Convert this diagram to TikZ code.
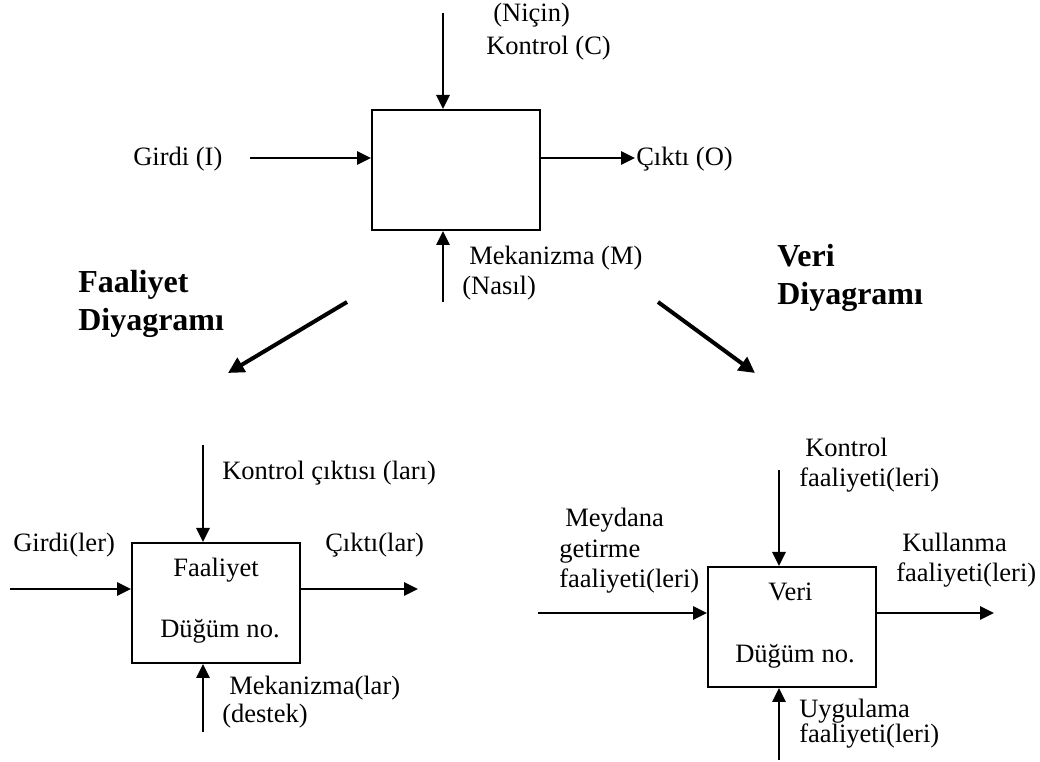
\documentclass[tikz,border=0pt]{standalone}
\usepackage{fontspec}
\setmainfont{Liberation Serif}
\usetikzlibrary{arrows.meta}

\begin{document}
\begin{tikzpicture}[x=0.75pt,y=-0.75pt,
  lbl/.style={anchor=base west, inner sep=0pt, font=\fontsize{19.9}{22}\selectfont},
  head/.style={anchor=base west, inner sep=0pt, font=\fontsize{24}{28}\selectfont\bfseries},
  box/.style={draw, line width=1.5pt, rectangle, anchor=north west,
              minimum width=126pt, minimum height=90pt, inner sep=0pt},
  flow/.style={line width=1.5pt, -{Triangle[length=10.5pt,width=10pt]}},
  branch/.style={line width=3pt, -{Triangle[length=12pt,width=12pt]}}]

\useasboundingbox (0,0) rectangle (1040,762);

% ---------- generic ICOM box ----------
\node[box] (top) at (371,109) {};
\coordinate (topC) at (443,13);
\coordinate (topI) at (250,158);
\coordinate (topO) at (635,158);
\coordinate (topM) at (443,302);
\draw[flow] (topC) -- (topC |- top.north);
\draw[flow] (topI) -- (topI -| top.west);
\draw[flow] (topI -| top.east) -- (topO);
\draw[flow] (topM) -- (topM |- top.south);

\node[lbl] (nicin)  at (493,22)  {(Niçin)};
\node[lbl] (kontC)  at (486,55)  {Kontrol (C)};
\node[lbl] (girdiI) at (133,166) {Girdi (I)};
\node[lbl] (ciktiO) at (636,166) {Çıktı (O)};
\node[lbl] (mekM)   at (469,265) {Mekanizma (M)};
\node[lbl] (nasil)  at (462,295) {(Nasıl)};

% ---------- branch headings and arrows ----------
\node[head] (fd1) at (78,293)  {Faaliyet};
\node[head] (fd2) at (78,331)  {Diyagramı};
\node[head] (vd1) at (777,267) {Veri};
\node[head] (vd2) at (777,305) {Diyagramı};

\coordinate (bl0) at (347,302);
\coordinate (bl1) at (228,373);
\coordinate (br0) at (658,302);
\coordinate (br1) at (755,373);
\draw[branch] (bl0) -- (bl1);
\draw[branch] (br0) -- (br1);

% ---------- activity diagram ----------
\node[box] (act) at (131,542) {};
\coordinate (actC) at (203,445);
\coordinate (actI) at (10,589);
\coordinate (actO) at (418,589);
\coordinate (actM) at (203,732);
\draw[flow] (actC) -- (actC |- act.north);
\draw[flow] (actI) -- (actI -| act.west);
\draw[flow] (actI -| act.east) -- (actO);
\draw[flow] (actM) -- (actM |- act.south);

\node[lbl] (actCt)  at (222,480) {Kontrol çıktısı (ları)};
\node[lbl] (actIt)  at (13,552)  {Girdi(ler)};
\node[lbl] (actOt)  at (325,552) {Çıktı(lar)};
\node[lbl] (actN1)  at (173,577) {Faaliyet};
\node[lbl] (actN2)  at (160,638) {Düğüm no.};
\node[lbl] (actMt1) at (229,695) {Mekanizma(lar)};
\node[lbl] (actMt2) at (222,723) {(destek)};

% ---------- data diagram ----------
\node[box] (dat) at (707,566) {};
\coordinate (datC) at (779,470);
\coordinate (datI) at (538,613);
\coordinate (datO) at (994,613);
\coordinate (datM) at (779,760);
\draw[flow] (datC) -- (datC |- dat.north);
\draw[flow] (datI) -- (datI -| dat.west);
\draw[flow] (datI -| dat.east) -- (datO);
\draw[flow] (datM) -- (datM |- dat.south);

\node[lbl] (datCt1) at (805,457) {Kontrol};
\node[lbl] (datCt2) at (799,487) {faaliyeti(leri)};
\node[lbl] (datIt1) at (565,527) {Meydana};
\node[lbl] (datIt2) at (559,558) {getirme};
\node[lbl] (datIt3) at (559,588) {faaliyeti(leri)};
\node[lbl] (datN1)  at (768,601) {Veri};
\node[lbl] (datN2)  at (735,663) {Düğüm no.};
\node[lbl] (datOt1) at (902,552) {Kullanma};
\node[lbl] (datOt2) at (896,582) {faaliyeti(leri)};
\node[lbl] (datMt1) at (799,718) {Uygulama};
\node[lbl] (datMt2) at (799,743) {faaliyeti(leri)};

\end{tikzpicture}
\end{document}
